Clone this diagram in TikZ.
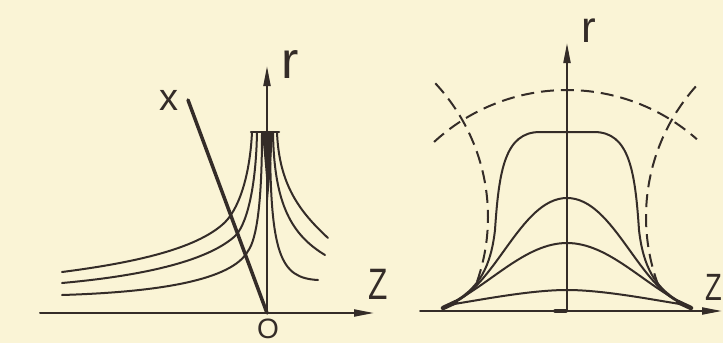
\documentclass[tikz,border=0pt]{standalone}
\usepackage{fontspec}
\setmainfont{Liberation Sans}
\usetikzlibrary{arrows.meta}
\definecolor{paper}{RGB}{250,244,214}
\definecolor{ink}{RGB}{52,44,40}
\begin{document}
\begin{tikzpicture}[x=1pt,y=-1pt, line cap=round, line join=round,
  axis/.style={draw=ink, line width=2pt},
  curve/.style={draw=ink, line width=2pt},
  dcurve/.style={draw=ink, line width=2pt, dash pattern=on 13pt off 7pt, line cap=butt},
  lbl/.style={text=ink, inner sep=0pt},
  tip/.style={-{Triangle[length=20pt,width=7pt]}}]
\fill[paper] (0,0) rectangle (723,343);
\useasboundingbox (0,0) rectangle (723,343);

% ---------- left panel ----------
\coordinate (lA) at (40,313);
\coordinate (lZ) at (374,313);
\coordinate (O) at (267,313);
\coordinate (lR) at (267,66);
\coordinate (xS) at (188,100);
\draw[axis,tip] (lA) -- (lZ);
\draw[axis,tip] (O) -- (lR);
\draw[ink, line width=3.5pt] (O) -- (xS);
\draw[ink, line width=2.5pt] (251,132) -- (279,132);
\fill[ink] (262,132) -- (273,132) -- (271,165) -- (268,200) -- (265,165) -- cycle;

\draw[curve] (62,272) .. controls (140,262) and (195,248) .. (222,225) .. controls (239,211) and (250,175) .. (252,132);
\draw[curve] (62,283) .. controls (140,276) and (205,262) .. (234,237) .. controls (246,227) and (256,190) .. (257,132);
\draw[curve] (62,295) .. controls (160,292) and (232,280) .. (248,251) .. controls (257,239) and (262,200) .. (262,132);

\draw[curve] (277,132) .. controls (279,185) and (300,212) .. (328,238);
\draw[curve] (273,132) .. controls (274,205) and (292,235) .. (325,255);
\draw[curve] (270,132) .. controls (270,255) and (280,278) .. (318,280);

\node[lbl, font=\fontsize{38}{40}\selectfont] (xl) at (169,100) {x};
\node[lbl, font=\fontsize{52}{52}\selectfont] (rl) at (290,65) {r};
\node[lbl] (zl) at (378,284) {\scalebox{0.72}[1]{\fontsize{44}{44}\selectfont Z}};
\node[lbl, font=\fontsize{28}{28}\selectfont] (ol) at (268,329) {O};

% ---------- right panel ----------
\coordinate (rA) at (420,311);
\coordinate (rZ) at (722,311);
\coordinate (rO) at (567,311);
\coordinate (rR) at (567,43);
\draw[axis,tip] (rA) -- (rZ);
\draw[axis,tip] (rO) -- (rR);
\draw[ink, line width=3.5pt] (555,311) -- (566,311);

\draw[curve] (448,305) .. controls (480,300) and (530,290) .. (567,290) .. controls (604,290) and (654,300) .. (686,305);
\draw[curve] (448,305) .. controls (490,285) and (525,243) .. (567,243) .. controls (609,243) and (644,285) .. (686,305);
\draw[curve] (448,305) .. controls (495,290) and (520,198) .. (567,198) .. controls (614,198) and (639,290) .. (686,305);
\draw[curve] (448,305) .. controls (480,290) and (491,265) .. (495,230) .. controls (499,170) and (505,132) .. (540,132) -- (594,132) .. controls (629,132) and (635,170) .. (639,230) .. controls (643,265) and (654,290) .. (686,305);

\draw[ink, line width=4.5pt] (443,308) -- (456,302);
\draw[ink, line width=4.5pt] (691,308) -- (678,302);

\draw[dcurve] plot[domain=-132.7:-48.5, samples=80] ({567+196*cos(\x)}, {286+196*sin(\x)});
\draw[dcurve] plot[domain=-43:20.5, samples=60] ({292+196*cos(\x)}, {217+196*sin(\x)});
\draw[dcurve] plot[domain=159.5:223, samples=60] ({842+196*cos(\x)}, {217+196*sin(\x)});

\node[lbl, font=\fontsize{44}{44}\selectfont] (rr) at (589,31) {r};
\node[lbl, anchor=east] (zr) at (722.5,287) {\scalebox{0.72}[1]{\fontsize{38}{38}\selectfont Z}};
\end{tikzpicture}
\end{document}
